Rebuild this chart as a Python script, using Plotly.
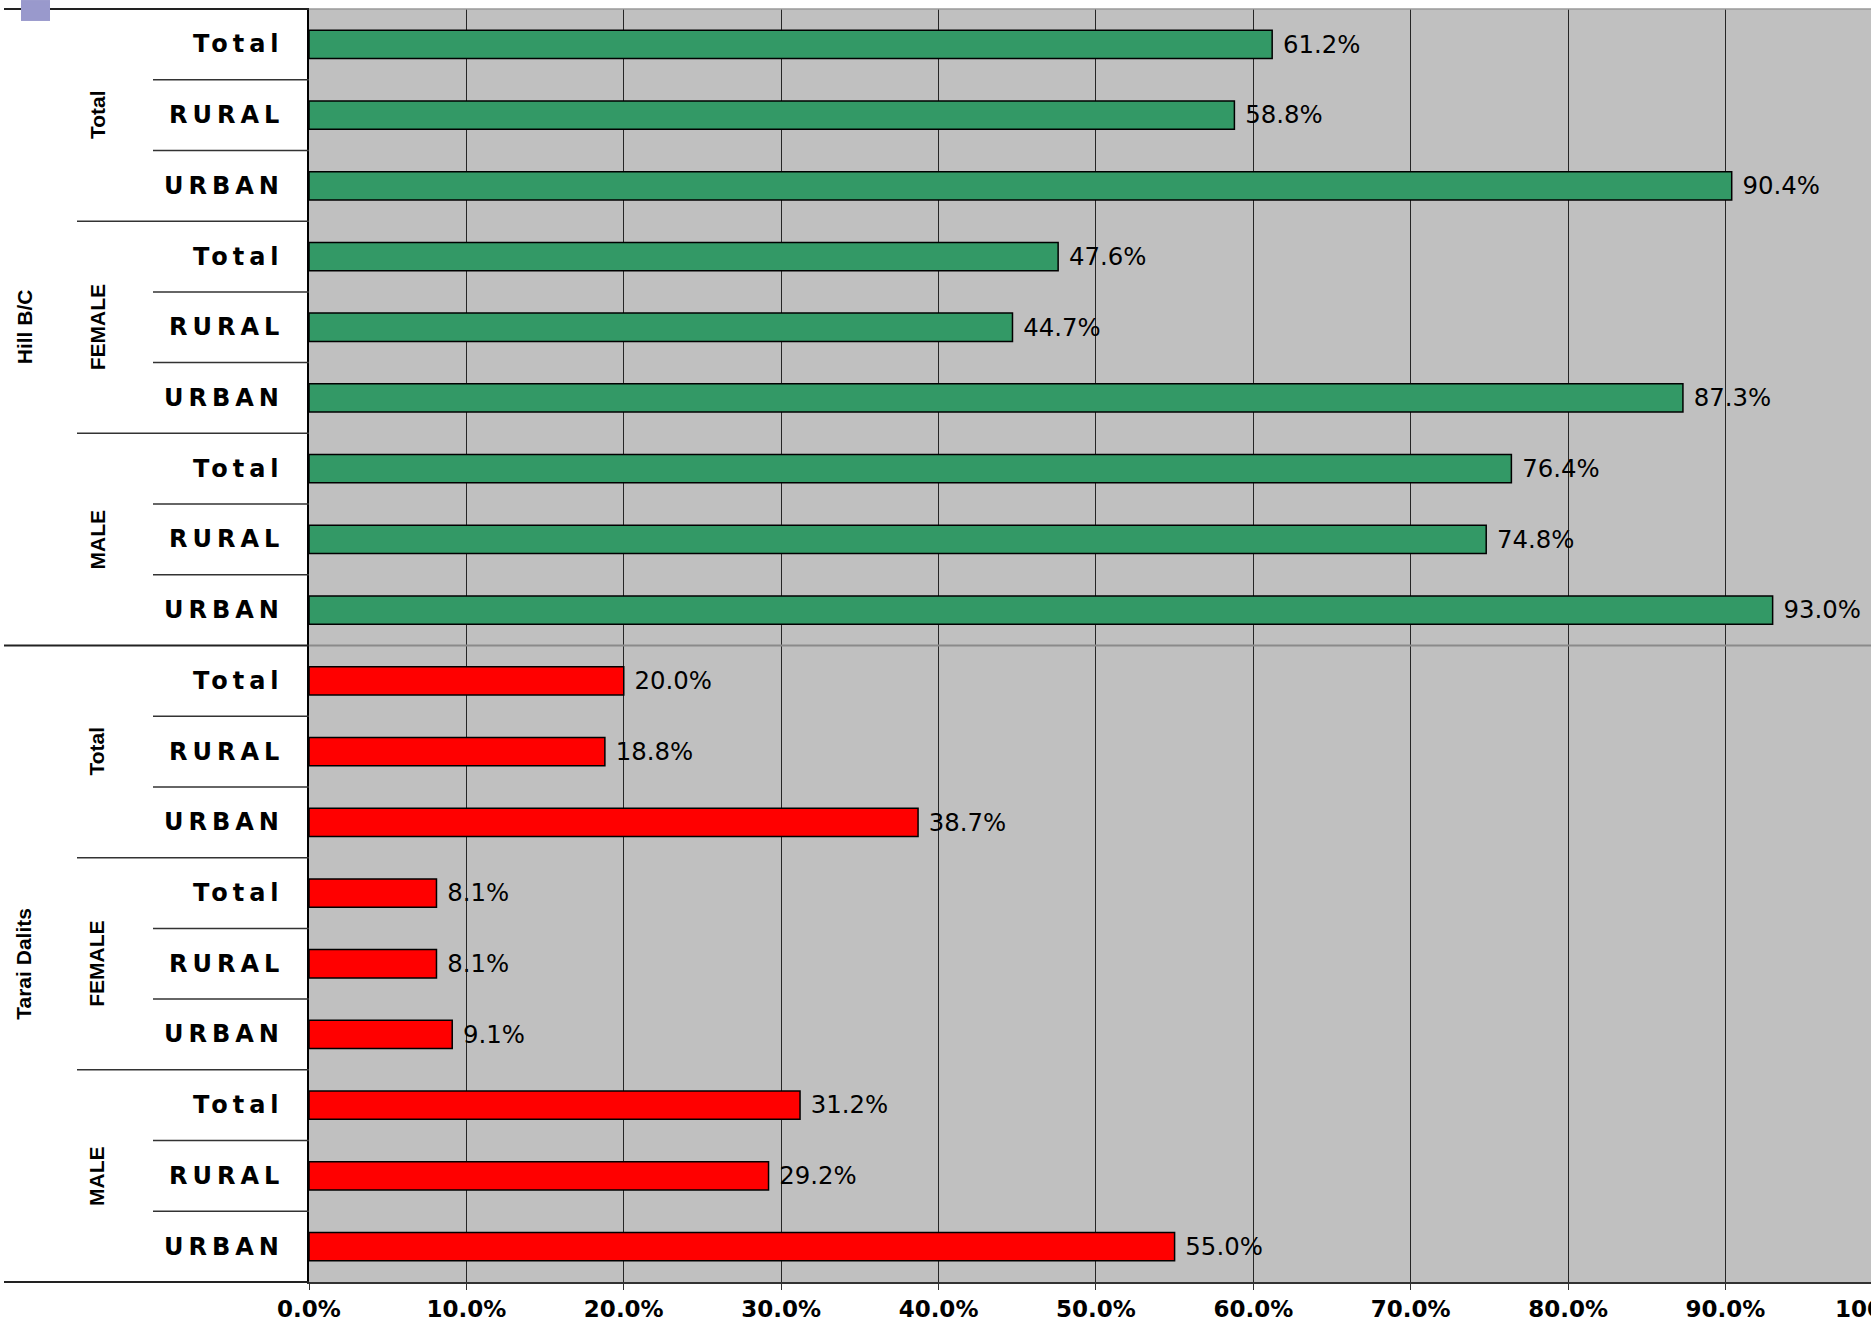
import plotly.graph_objects as go

# ---------------- data ----------------
level1 = ["Hill B/C", "Tarai Dalits"]
level2 = ["Total", "FEMALE", "MALE"]
level3 = ["Total", "RURAL", "URBAN"]

hill_values = [61.2, 58.8, 90.4, 47.6, 44.7, 87.3, 76.4, 74.8, 93.0]
tarai_values = [20.0, 18.8, 38.7, 8.1, 8.1, 9.1, 31.2, 29.2, 55.0]

tick_values = [0, 10, 20, 30, 40, 50, 60, 70, 80, 90]
tick_labels = ["0.0%", "10.0%", "20.0%", "30.0%", "40.0%", "50.0%",
               "60.0%", "70.0%", "80.0%", "90.0%"]
last_tick_value = 100
last_tick_label = "100.0%"

group_values = {"Hill B/C": hill_values, "Tarai Dalits": tarai_values}
group_colors = {"Hill B/C": "#339966", "Tarai Dalits": "#FF0000"}

# ---------------- layout constants ----------------
W, H = 1871, 1322
ML, MR, MT, MB = 309, 0, 9, 36
plot_w = W - ML - MR
plot_h = H - MT - MB
x_max = 99.25


def px(p):
    """pixel offset from the left plot edge -> paper x"""
    return p / plot_w


# ---------------- build ----------------
rows = [(a, b, c) for a in level1 for b in level2 for c in level3]
ids = ["|".join(r) for r in rows]
n = len(ids)

fig = go.Figure()
for g in level1:
    gids = [i for i, r in zip(ids, rows) if r[0] == g]
    vals = group_values[g]
    fig.add_trace(go.Bar(
        y=gids, x=vals, orientation="h",
        marker=dict(color=group_colors[g], line=dict(color="#000000", width=1.5)),
        text=[f"\u00a0{v:.1f}%" for v in vals],
        textposition="outside",
        textfont=dict(family="DejaVu Sans", size=25, color="#000000"),
        cliponaxis=False,
        name=g, showlegend=False,
        hovertemplate="%{y}: %{x:.1f}%<extra></extra>",
    ))

annotations = []
# level-3 labels
for i, r in zip(ids, rows):
    annotations.append(dict(
        x=0, xref="x", y=i, yref="y", xanchor="right", yanchor="middle",
        xshift=-23, showarrow=False,
        text=f'<span style="letter-spacing:5px">{r[2]}</span>',
        font=dict(family="DejaVu Sans", size=24, color="#000000", weight="bold"),
    ))
# level-2 / level-1 labels (centred on middle rows)
for a in level1:
    for b in level2:
        mid = "|".join((a, b, level3[1]))
        annotations.append(dict(
            x=0, xref="x", y=mid, yref="y", xanchor="center", yanchor="middle",
            xshift=-212, showarrow=False, textangle=-90, text=b,
            font=dict(family="Liberation Sans", size=21, color="#000000", weight="bold"),
        ))
    mid1 = "|".join((a, level2[1], level3[1]))
    annotations.append(dict(
        x=0, xref="x", y=mid1, yref="y", xanchor="center", yanchor="middle",
        xshift=-285, showarrow=False, textangle=-90, text=a,
        font=dict(family="Liberation Sans", size=21, color="#000000", weight="bold"),
    ))
# partially visible last tick label at right edge
annotations.append(dict(
    x=last_tick_value / x_max, xref="paper", y=0, yref="paper",
    yanchor="top", xanchor="center", yshift=-12, showarrow=False,
    text=last_tick_label,
    font=dict(family="DejaVu Sans", size=23, color="#000000", weight="bold"),
))

shapes = []
for k in range(0, n + 1):
    if k == 0 or k == n or k % 9 == 0:
        left = -305
        col, w = "#222222", 2
    elif k % 3 == 0:
        left = -232
        col, w = "#333333", 1.5
    else:
        left = -156
        col, w = "#333333", 1.5
    yk = 1 - k / n
    shapes.append(dict(
        type="line", xref="paper", x0=px(left), x1=0, yref="paper", y0=yk, y1=yk,
        line=dict(color=col, width=w), layer="above",
    ))
# separator between the two groups across the plot, and the top border
shapes.append(dict(type="line", xref="paper", x0=0, x1=1, yref="paper",
                   y0=1 - 9 / n, y1=1 - 9 / n,
                   line=dict(color="#8a8a8a", width=2), layer="above"))
shapes.append(dict(type="line", xref="paper", x0=0, x1=1, yref="paper", y0=1, y1=1,
                   line=dict(color="#9a9a9a", width=1.5), layer="above"))
# small decorative square top-left
shapes.append(dict(type="rect", xref="paper", x0=px(-288), x1=px(-259),
                   yref="paper", y0=1 - 12 / plot_h, y1=1 + 9 / plot_h,
                   fillcolor="#9999CC", line=dict(width=0), layer="above"))

fig.update_layout(
    width=W, height=H,
    margin=dict(l=ML, r=MR, t=MT, b=MB),
    paper_bgcolor="#FFFFFF", plot_bgcolor="#C0C0C0",
    bargap=0.6,
    annotations=annotations, shapes=shapes,
    xaxis=dict(
        range=[0, x_max], tickvals=tick_values, ticktext=tick_labels,
        showgrid=True, gridcolor="#262626", gridwidth=1,
        ticks="outside", ticklen=6, tickcolor="#333333",
        showline=True, linecolor="#333333", linewidth=1.5,
        zeroline=False,
        tickfont=dict(family="DejaVu Sans", size=23, color="#000000", weight="bold"),
    ),
    yaxis=dict(
        type="category", categoryorder="array", categoryarray=ids,
        autorange="reversed", showticklabels=False, showgrid=False,
        showline=True, linecolor="#000000", linewidth=1.5, ticks="",
        zeroline=False,
    ),
)

fig.write_html("out.html")
